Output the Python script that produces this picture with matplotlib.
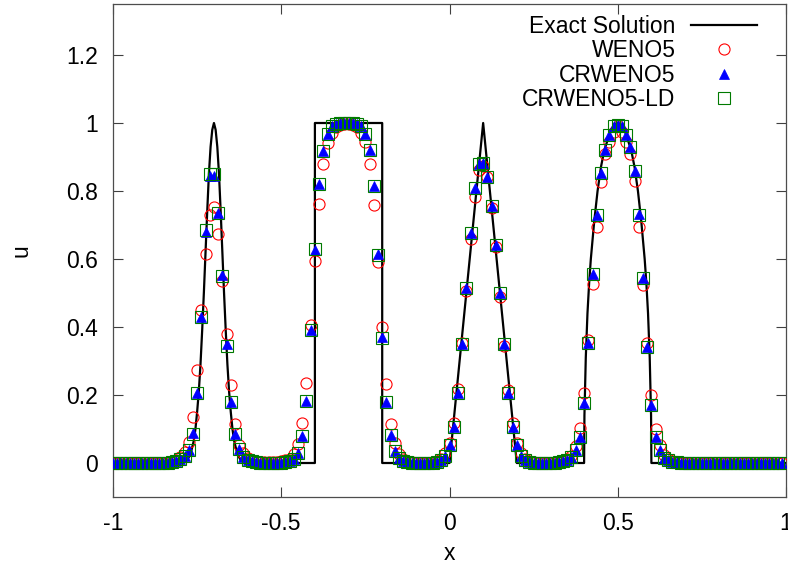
import numpy as np
import matplotlib
matplotlib.use("Agg")
import matplotlib.pyplot as plt
from matplotlib.ticker import FuncFormatter

# solver grid: 160 points on the periodic domain [-1, 1)
x_grid = np.linspace(-1.0, 0.9875, 160)

# numerical solutions, one value per grid point
weno5 = [
    0, 0, 0, 0, 0, 0, 0, 0, 0, 0,
    0, 0, 0.001, 0.003, 0.006, 0.01, 0.018, 0.033, 0.063, 0.136,
    0.274, 0.45, 0.615, 0.73, 0.752, 0.674, 0.535, 0.379, 0.228, 0.115,
    0.053, 0.028, 0.015, 0.008, 0.005, 0.003, 0.002, 0.002, 0.003, 0.004,
    0.005, 0.008, 0.013, 0.027, 0.056, 0.117, 0.234, 0.406, 0.594, 0.761,
    0.879, 0.94, 0.972, 0.988, 0.995, 0.998, 0.998, 0.995, 0.988, 0.972,
    0.945, 0.879, 0.759, 0.592, 0.401, 0.232, 0.115, 0.058, 0.027, 0.013,
    0.006, 0.003, 0.001, 0, 0, 0, 0.002, 0.005, 0.012, 0.03,
    0.06, 0.117, 0.217, 0.352, 0.507, 0.658, 0.781, 0.862, 0.875, 0.842,
    0.75, 0.636, 0.489, 0.345, 0.215, 0.117, 0.06, 0.03, 0.013, 0.005,
    0.002, 0, 0, 0, 0.001, 0.003, 0.005, 0.008, 0.012, 0.022,
    0.05, 0.103, 0.205, 0.362, 0.526, 0.693, 0.827, 0.91, 0.945, 0.975,
    0.99, 0.975, 0.945, 0.91, 0.83, 0.695, 0.524, 0.352, 0.2, 0.1,
    0.053, 0.025, 0.012, 0.006, 0.003, 0.001, 0, 0, 0, 0,
    0, 0, 0, 0, 0, 0, 0, 0, 0, 0,
    0, 0, 0, 0, 0, 0, 0, 0, 0, 0,
]

crweno5 = [
    0, 0, 0, 0, 0, 0, 0, 0, 0, 0,
    0, 0, 0, 0.001, 0.003, 0.006, 0.011, 0.02, 0.038, 0.087,
    0.205, 0.43, 0.68, 0.845, 0.845, 0.735, 0.552, 0.35, 0.18, 0.085,
    0.04, 0.019, 0.01, 0.005, 0.003, 0.001, 0, 0, 0, 0.001,
    0.001, 0.002, 0.005, 0.012, 0.03, 0.078, 0.183, 0.39, 0.626, 0.82,
    0.918, 0.968, 0.99, 0.997, 1.0, 1.0, 1.0, 1.0, 0.997, 0.99,
    0.968, 0.92, 0.815, 0.615, 0.372, 0.18, 0.082, 0.036, 0.015, 0.007,
    0.003, 0.001, 0, 0, 0, 0, 0.001, 0.003, 0.008, 0.022,
    0.053, 0.107, 0.207, 0.35, 0.514, 0.677, 0.81, 0.88, 0.882, 0.842,
    0.756, 0.641, 0.499, 0.35, 0.207, 0.106, 0.053, 0.022, 0.008, 0.003,
    0.001, 0, 0, 0, 0, 0.001, 0.003, 0.006, 0.01, 0.018,
    0.038, 0.077, 0.177, 0.352, 0.556, 0.729, 0.852, 0.922, 0.965, 0.99,
    0.995, 0.99, 0.965, 0.928, 0.86, 0.732, 0.543, 0.34, 0.171, 0.077,
    0.038, 0.016, 0.008, 0.004, 0.002, 0.001, 0, 0, 0, 0,
    0, 0, 0, 0, 0, 0, 0, 0, 0, 0,
    0, 0, 0, 0, 0, 0, 0, 0, 0, 0,
]

crweno5_ld = [
    0, 0, 0, 0, 0, 0, 0, 0, 0, 0,
    0, 0, 0, 0.001, 0.003, 0.006, 0.011, 0.02, 0.038, 0.086,
    0.205, 0.43, 0.686, 0.85, 0.85, 0.735, 0.55, 0.345, 0.18, 0.085,
    0.04, 0.019, 0.01, 0.005, 0.003, 0.001, 0, 0, 0, 0.001,
    0.001, 0.002, 0.005, 0.012, 0.03, 0.078, 0.183, 0.392, 0.63, 0.822,
    0.918, 0.968, 0.99, 0.997, 1.0, 1.0, 1.0, 1.0, 0.997, 0.99,
    0.968, 0.92, 0.815, 0.612, 0.368, 0.18, 0.082, 0.036, 0.015, 0.007,
    0.003, 0.001, 0, 0, 0, 0, 0.001, 0.003, 0.008, 0.022,
    0.053, 0.107, 0.207, 0.35, 0.514, 0.677, 0.81, 0.88, 0.882, 0.842,
    0.756, 0.641, 0.499, 0.35, 0.207, 0.106, 0.053, 0.022, 0.008, 0.003,
    0.001, 0, 0, 0, 0, 0.001, 0.003, 0.006, 0.01, 0.018,
    0.038, 0.077, 0.177, 0.352, 0.556, 0.729, 0.852, 0.922, 0.965, 0.99,
    0.995, 0.99, 0.965, 0.928, 0.86, 0.73, 0.543, 0.34, 0.171, 0.077,
    0.038, 0.016, 0.008, 0.004, 0.002, 0.001, 0, 0, 0, 0,
    0, 0, 0, 0, 0, 0, 0, 0, 0, 0,
    0, 0, 0, 0, 0, 0, 0, 0, 0, 0,
]

# exact solution, piece by piece (gaussian, square, triangle, ellipse)
gauss_x = [-0.8, -0.78, -0.77, -0.76, -0.755, -0.75, -0.745, -0.74, -0.735, -0.73,
           -0.725, -0.72, -0.715, -0.71, -0.705, -0.7, -0.695, -0.69, -0.685, -0.68,
           -0.675, -0.67, -0.665, -0.66, -0.655, -0.65, -0.645, -0.64, -0.63, -0.62, -0.6]
gauss_u = [0.0, 0.008, 0.025, 0.065, 0.10, 0.15, 0.21, 0.29, 0.39, 0.50,
           0.62, 0.74, 0.85, 0.93, 0.98, 1.0, 0.98, 0.93, 0.85, 0.74,
           0.62, 0.50, 0.39, 0.29, 0.21, 0.15, 0.10, 0.065, 0.025, 0.008, 0.0]
square_x = [-0.4, -0.4, -0.2, -0.2]
square_u = [0.0, 1.0, 1.0, 0.0]
tri_x = [0.0, 0.1, 0.2]
tri_u = [0.0, 1.0, 0.0]
ell_x = [0.4, 0.401, 0.405, 0.41, 0.415, 0.42, 0.43, 0.44, 0.45, 0.46, 0.47, 0.48, 0.49,
         0.5, 0.51, 0.52, 0.53, 0.54, 0.55, 0.56, 0.57, 0.58, 0.585, 0.59, 0.595, 0.599, 0.6]
ell_u = [0.0, 0.14, 0.31, 0.44, 0.53, 0.60, 0.71, 0.80, 0.87, 0.92, 0.95, 0.98, 0.995,
         1.0, 0.995, 0.98, 0.95, 0.92, 0.87, 0.80, 0.71, 0.60, 0.53, 0.44, 0.31, 0.14, 0.0]

x_ticks = [-1, -0.5, 0, 0.5, 1]
y_ticks = [0, 0.2, 0.4, 0.6, 0.8, 1, 1.2]

FS = 16.5


def main():
    plt.rcParams['font.family'] = ['Liberation Sans', 'DejaVu Sans']

    exact_x = [-1.0] + gauss_x + square_x + tri_x + ell_x + [1.0]
    exact_u = [0.0] + gauss_u + square_u + tri_u + ell_u + [0.0]

    fig = plt.figure(figsize=(7.88, 5.75), dpi=100)
    ax = fig.add_axes([113 / 788, 78 / 575, 673 / 788, 493 / 575])

    ax.plot(exact_x, exact_u, color='black', lw=1.6, label='Exact Solution', zorder=2)
    ax.plot(x_grid, weno5, ls='none', marker='o', ms=8, mfc='none', mec='#ff0000',
            mew=0.8, label='WENO5', zorder=3)
    ax.plot(x_grid, crweno5, ls='none', marker='^', ms=7.5, mfc='#0000ff', mec='#0000ff',
            mew=0.5, label='CRWENO5', zorder=4)
    ax.plot(x_grid, crweno5_ld, ls='none', marker='s', ms=8, mfc='none', mec='#007a00',
            mew=0.8, label='CRWENO5-LD', zorder=5)

    ax.set_xlim(-1, 1)
    ax.set_ylim(-0.1, 1.35)
    ax.set_xticks(x_ticks)
    ax.set_yticks(y_ticks)
    fmt = FuncFormatter(lambda v, p: '%g' % v)
    ax.xaxis.set_major_formatter(fmt)
    ax.yaxis.set_major_formatter(fmt)
    ax.tick_params(direction='in', length=7, width=0.8, color='0.25',
                   top=True, right=True, labelsize=FS, pad=11)
    for s in ax.spines.values():
        s.set_color('0.3')
        s.set_linewidth(0.9)

    ax.set_xlabel('x', fontsize=FS, labelpad=5)
    ax.set_ylabel('u', fontsize=FS, labelpad=24)

    ax.legend(loc='upper right', bbox_to_anchor=(0.957, 0.978), frameon=False,
              markerfirst=False, fontsize=FS, handlelength=2.9, handletextpad=0.65,
              labelspacing=0.06, borderpad=0, borderaxespad=0)

    fig.savefig('out.png', dpi=100)


if __name__ == "__main__":
    main()
